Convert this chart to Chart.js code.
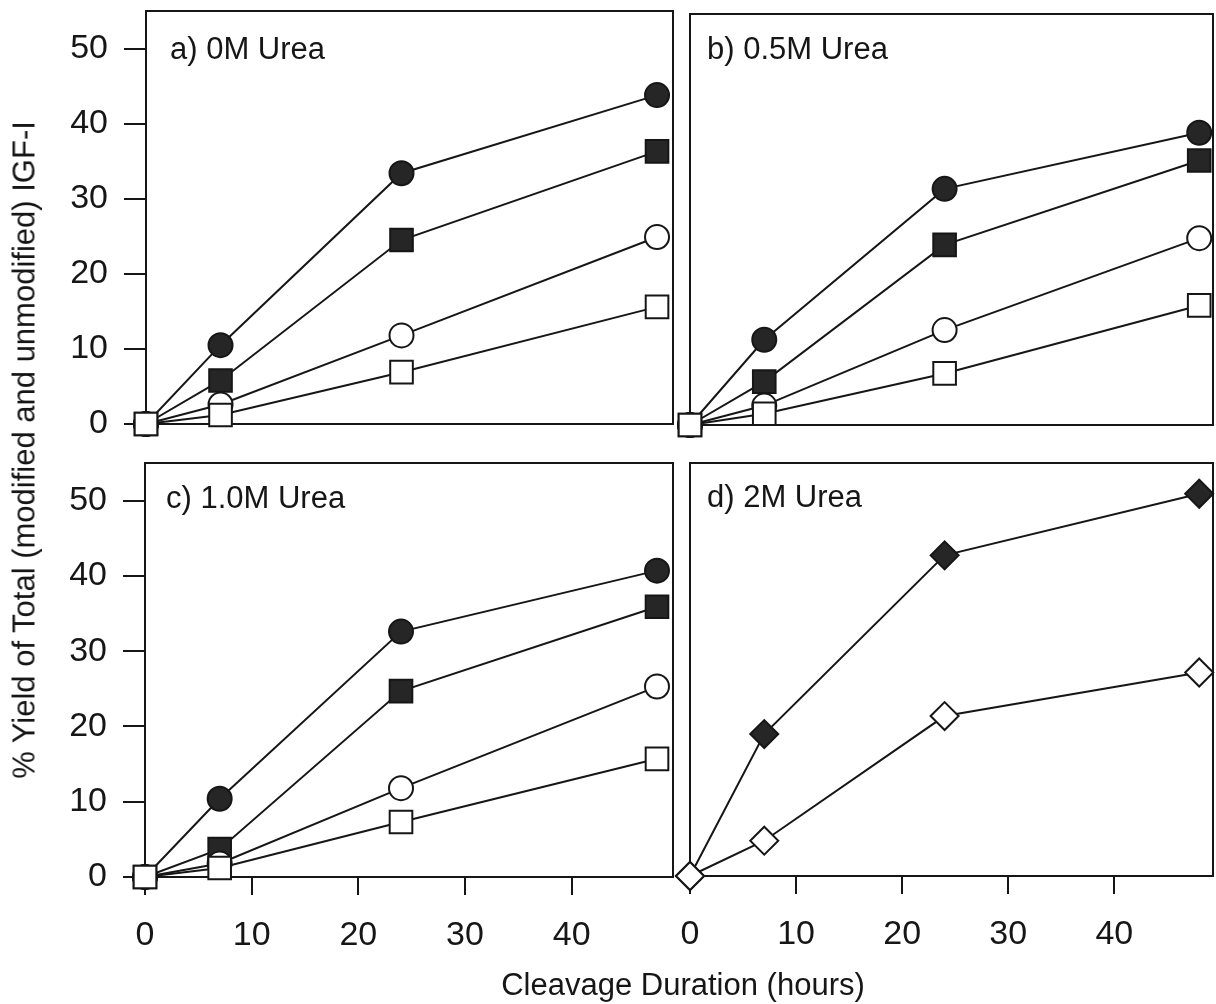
<!DOCTYPE html>
<html>
<head>
<meta charset="utf-8">
<script src="https://cdn.jsdelivr.net/npm/chart.js@4.4.1/dist/chart.umd.min.js"></script>
<style>
  body { margin: 0; background: #fff; }
  #fig { position: relative; width: 1216px; height: 1004px; overflow: hidden;
         font-family: "Liberation Sans", Arial, sans-serif; color: #161616; }
  #fig canvas { position: absolute; }
  .lbl { position: absolute; font-size: 31px; line-height: 31px; white-space: nowrap; }
</style>
</head>
<body>
<div id="fig">
  <canvas id="chartA" width="676" height="450" style="left:0;top:0"></canvas>
  <canvas id="chartB" width="542" height="450" style="left:674px;top:0"></canvas>
  <canvas id="chartC" width="676" height="564" style="left:0;top:440px"></canvas>
  <canvas id="chartD" width="542" height="564" style="left:674px;top:440px"></canvas>

  <div class="lbl" style="left:170px;top:33px">a) 0M Urea</div>
  <div class="lbl" style="left:707px;top:33px">b) 0.5M Urea</div>
  <div class="lbl" style="left:166px;top:482px">c) 1.0M Urea</div>
  <div class="lbl" style="left:707px;top:481px">d) 2M Urea</div>

  <div class="lbl" style="left:683px;top:969px;transform:translateX(-50%)">Cleavage Duration (hours)</div>
  <div class="lbl" style="left:24px;top:450px;width:800px;text-align:center;transform:translate(-50%,-50%) rotate(-90deg)">% Yield of Total (modified and unmodified) IGF-I</div>
</div>

<script>
// sampling times (hours)
const hours = [0, 7, 24, 48];
const xTicks = [0, 10, 20, 30, 40];
const yTicks = [0, 10, 20, 30, 40, 50];

// a) 0M Urea
const aFilledCircle = [0, 10.5, 33.4, 43.8];
const aFilledSquare = [0, 5.8, 24.5, 36.3];
const aOpenCircle   = [0, 2.6, 11.8, 24.9];
const aOpenSquare   = [0, 1.2, 6.9, 15.6];

// b) 0.5M Urea
const bFilledCircle = [0, 11.4, 31.6, 39.1];
const bFilledSquare = [0, 5.8, 24.1, 35.4];
const bOpenCircle   = [0, 2.6, 12.7, 25.0];
const bOpenSquare   = [0, 1.5, 6.9, 16.0];

// c) 1.0M Urea
const cFilledCircle = [0, 10.4, 32.6, 40.7];
const cFilledSquare = [0, 3.7, 24.7, 35.9];
const cOpenCircle   = [0, 1.8, 11.8, 25.3];
const cOpenSquare   = [0, 1.2, 7.3, 15.7];

// d) 2M Urea
const dFilledDiamond = [0, 18.9, 42.7, 50.9];
const dOpenDiamond   = [0, 4.7, 21.3, 27.1];

const ink = '#161616';
const darkFill = '#262626';
const fontFamily = '"Liberation Sans", Arial, sans-serif';

const series = (values, style, filled, radius) => ({
    data: hours.map((h, i) => ({ x: h, y: values[i] })),
    borderColor: ink,
    borderWidth: 2,
    pointStyle: style,
    pointRadius: radius,
    pointBackgroundColor: filled ? darkFill : '#ffffff',
    pointBorderColor: ink,
    pointBorderWidth: 2,
    tension: 0,
    clip: false,
});

// box round the plot area, drawn under the markers
const frame = {
    id: 'frame',
    beforeDatasetsDraw(chart) {
        const { ctx, chartArea: a } = chart;
        ctx.save();
        ctx.strokeStyle = ink;
        ctx.lineWidth = 2;
        ctx.strokeRect(a.left, a.top, a.right - a.left, a.bottom - a.top);
        ctx.restore();
    },
};

const makePanel = (id, datasets, o) => {
    new Chart(document.getElementById(id), {
        type: 'line',
        data: { datasets: datasets },
        options: {
            responsive: false,
            animation: false,
            events: [],
            layout: { autoPadding: false, padding: o.padding },
            plugins: { legend: { display: false }, tooltip: { enabled: false } },
            scales: {
                x: {
                    type: 'linear',
                    min: 0,
                    max: o.xMax,
                    display: o.showX,
                    afterBuildTicks: (s) => { s.ticks = xTicks.map(v => ({ value: v })); },
                    afterFit: (s) => {
                        if (o.showX) s.height = o.xHeight;
                        s.paddingLeft = 0;
                        s.paddingRight = 0;
                    },
                    grid: { drawOnChartArea: false, color: ink, lineWidth: 2, tickLength: 18 },
                    border: { display: false },
                    ticks: { color: '#161616', font: { family: fontFamily, size: 34 }, padding: 20, maxRotation: 0 },
                },
                y: {
                    min: 0,
                    max: 55,
                    display: o.showY,
                    afterBuildTicks: (s) => { s.ticks = yTicks.map(v => ({ value: v })); },
                    afterFit: (s) => {
                        if (o.showY) s.width = o.yWidth;
                        s.paddingTop = 0;
                        s.paddingBottom = 0;
                    },
                    grid: { drawOnChartArea: false, color: ink, lineWidth: 2, tickLength: 22 },
                    border: { display: false },
                    ticks: { color: '#161616', font: { family: fontFamily, size: 34 }, padding: 16 },
                },
            },
        },
        plugins: [frame],
    });
};

// first dataset is drawn on top
makePanel('chartA', [
    series(aOpenSquare, 'rect', false, 16),
    series(aOpenCircle, 'circle', false, 12),
    series(aFilledSquare, 'rect', true, 16),
    series(aFilledCircle, 'circle', true, 12),
], { padding: { left: 0, top: 11, right: 3, bottom: 26 }, xMax: 49.5, showX: false, showY: true, yWidth: 146 });

makePanel('chartB', [
    series(bOpenSquare, 'rect', false, 16),
    series(bOpenCircle, 'circle', false, 12),
    series(bFilledSquare, 'rect', true, 16),
    series(bFilledCircle, 'circle', true, 12),
], { padding: { left: 16, top: 14, right: 3, bottom: 25 }, xMax: 49.3, showX: false, showY: false });

makePanel('chartC', [
    series(cOpenSquare, 'rect', false, 16),
    series(cOpenCircle, 'circle', false, 12),
    series(cFilledSquare, 'rect', true, 16),
    series(cFilledCircle, 'circle', true, 12),
], { padding: { left: 0, top: 23, right: 3, bottom: 0 }, xMax: 49.5, showX: true, xHeight: 127, showY: true, yWidth: 145 });

makePanel('chartD', [
    series(dOpenDiamond, 'rectRot', false, 14),
    series(dFilledDiamond, 'rectRot', true, 14),
], { padding: { left: 16, top: 23, right: 3, bottom: 0 }, xMax: 49.3, showX: true, xHeight: 128, showY: false });
</script>
</body>
</html>
